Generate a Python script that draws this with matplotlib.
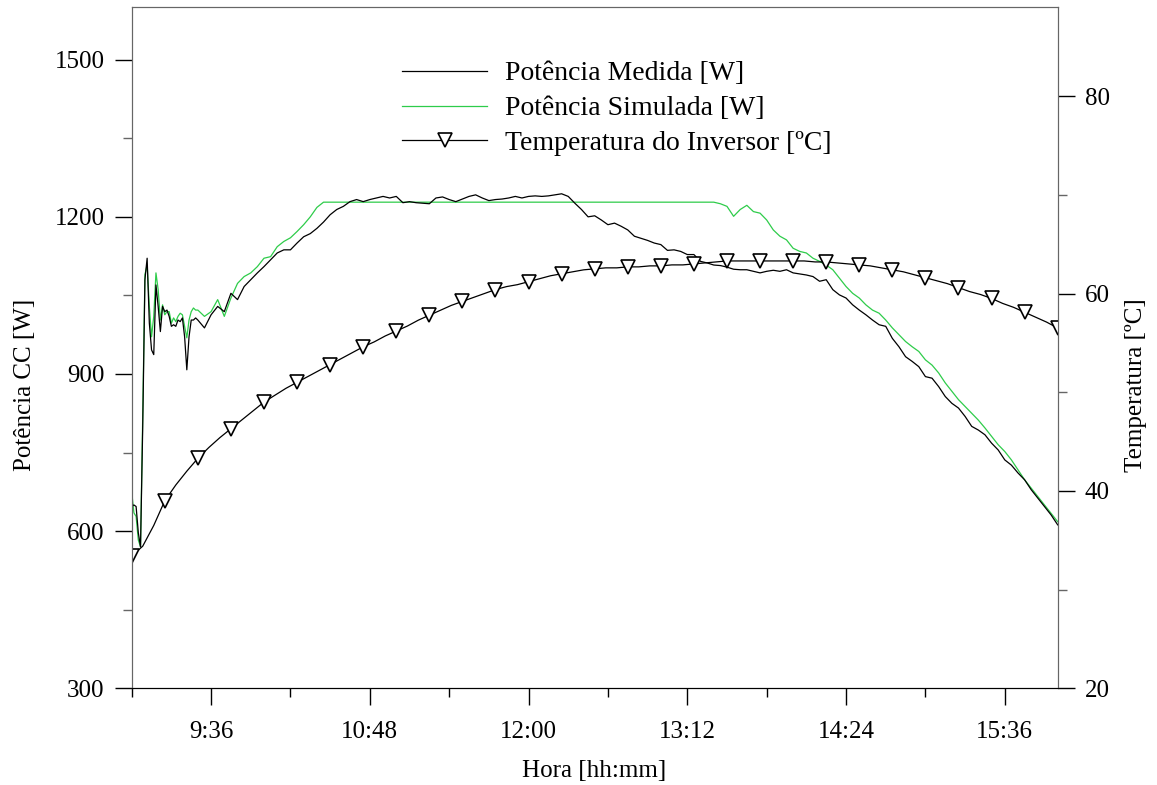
import numpy as np
import matplotlib.pyplot as plt
from matplotlib.ticker import MultipleLocator, FuncFormatter

plt.rcParams['font.family'] = ['Liberation Serif', 'DejaVu Serif']
plt.rcParams['font.size'] = 18

# tempo em minutos depois das 9:00
t_med = list(range(0, 30)) + list(range(30, 421, 3))
pot_medida = [
    647, 650, 647, 597, 570, 800, 1080, 1121, 997, 946,
    937, 1070, 1029, 981, 1029, 1019, 1022, 1010, 991, 994,
    991, 1003, 1000, 1007, 971, 908, 971, 1003, 1003, 1007,
    # 30 .. 420 a cada 3 min
    1003, 988, 1013, 1029, 1019, 1054, 1042, 1067, 1080, 1093,
    1105, 1118, 1131, 1137, 1137, 1150, 1162, 1168, 1178, 1190,
    1204, 1214, 1220, 1229, 1233, 1229, 1233, 1236, 1239, 1236,
    1239, 1227, 1229, 1227, 1226, 1225, 1236, 1238, 1233, 1229,
    1234, 1239, 1242, 1236, 1231, 1233, 1234, 1236, 1239, 1236,
    1239, 1240, 1239, 1240, 1242, 1244, 1239, 1226, 1214, 1200,
    1202, 1194, 1185, 1188, 1182, 1175, 1163, 1159, 1155, 1150,
    1147, 1136, 1137, 1134, 1128, 1128, 1115, 1112, 1108, 1107,
    1104, 1100, 1099, 1099, 1096, 1093, 1096, 1098, 1096, 1099,
    1093, 1091, 1089, 1086, 1077, 1080, 1061, 1051, 1045, 1032,
    1022, 1013, 1003, 994, 991, 968, 952, 933, 924, 914,
    895, 892, 876, 857, 844, 835, 819, 800, 793, 784,
    768, 755, 736, 726, 711, 698, 679, 663, 647, 631,
    612,
]

t_sim = list(range(0, 30)) + list(range(30, 88, 3)) + [261] + list(range(264, 421, 3))
pot_simulada = [
    675, 635, 628, 583, 570, 820, 1090, 1108, 1029, 971,
    1010, 1093, 1061, 1003, 1032, 1013, 1019, 1019, 997, 1007,
    1000, 1010, 1016, 1013, 991, 969, 1003, 1019, 1026, 1022,
    # 30 .. 87
    1022, 1010, 1019, 1042, 1010, 1045, 1073, 1086, 1093, 1105,
    1121, 1124, 1143, 1153, 1160, 1172, 1185, 1200, 1218, 1228,
    # 261
    1228,
    # 264 .. 420
    1228, 1225, 1220, 1201, 1214, 1222, 1210, 1207, 1194, 1175,
    1163, 1156, 1140, 1134, 1131, 1121, 1115, 1108, 1099, 1083,
    1067, 1054, 1045, 1032, 1022, 1016, 1003, 988, 975, 962,
    952, 943, 927, 917, 902, 883, 867, 851, 838, 825,
    812, 797, 781, 765, 752, 736, 717, 698, 682, 666,
    650, 634, 618,
]

t_temp = list(range(0, 421, 5))
temp_inversor = [
    33.4, 34.4, 36.5, 39.0, 40.6, 42.0, 43.3, 44.4, 45.4, 46.3,
    47.2, 48.1, 49.0, 49.7, 50.4, 51.0, 51.6, 52.2, 52.8, 53.4,
    54.0, 54.6, 55.1, 55.7, 56.2, 56.7, 57.3, 57.8, 58.3, 58.8,
    59.2, 59.6, 60.0, 60.4, 60.7, 60.9, 61.2, 61.5, 61.8, 62.0,
    62.2, 62.4, 62.5, 62.6, 62.6, 62.7, 62.7, 62.8, 62.8, 62.9,
    62.9, 63.0, 63.1, 63.2, 63.3, 63.3, 63.3, 63.3, 63.3, 63.3,
    63.3, 63.3, 63.2, 63.2, 63.1, 63.0, 62.9, 62.8, 62.6, 62.4,
    62.2, 61.9, 61.6, 61.3, 61.0, 60.6, 60.2, 59.9, 59.5, 59.0,
    58.6, 58.1, 57.6, 57.1, 56.5,
]

inicio = 9 * 60
verde = '#2ecc4a'

fig = plt.figure(figsize=(11.57, 7.85), dpi=100)
ax = fig.add_axes([131.7/1157, 1-688.3/785, 926/1157, 681/785])
ax2 = ax.twinx()

l2, = ax.plot(np.array(t_sim) + inicio, pot_simulada, color=verde, lw=0.9)
l1, = ax.plot(np.array(t_med) + inicio, pot_medida, color='k', lw=0.9)
l3, = ax2.plot(np.array(t_temp) + inicio, temp_inversor, color='k', lw=0.9,
               marker='v', markevery=3, ms=10, mfc='white', mec='k', mew=1.2)

ax.set_xlim(inicio, inicio + 420)
ax.set_ylim(300, 1600)
ax2.set_ylim(20, 89)

ax.xaxis.set_major_locator(MultipleLocator(72))
ax.xaxis.set_minor_locator(MultipleLocator(36))
ax.xaxis.set_major_formatter(FuncFormatter(lambda v, p: f'{int(v)//60}:{int(v)%60:02d}'))
ax.yaxis.set_major_locator(MultipleLocator(300))
ax.yaxis.set_minor_locator(MultipleLocator(150))
ax2.yaxis.set_major_locator(MultipleLocator(20))
ax2.yaxis.set_minor_locator(MultipleLocator(10))

for a in (ax, ax2):
    a.tick_params(which='major', direction='out', length=12.5, width=1, pad=7)
    a.tick_params(which='minor', direction='out', length=6.5, width=1)
    for s in ('left', 'right', 'top'):
        a.spines[s].set_color('#666666')
    a.spines['bottom'].set_color('k')
ax.tick_params(axis='x', which='major', pad=11)
ax.tick_params(axis='y', which='minor', color='#666666')
ax2.tick_params(axis='y', which='minor', color='#666666')

fig.text(25/1157, 1-385/785, 'Potência CC [W]', rotation=90, ha='center', va='center')
fig.text(1136/1157, 1-385/785, 'Temperatura [ºC]', rotation=90, ha='center', va='center')
fig.text(594/1157, 1-771/785, 'Hora [hh:mm]', ha='center', va='center')

fig.legend([l1, l2, l3], ['Potência Medida [W]', 'Potência Simulada [W]',
                          'Temperatura do Inversor [ºC]'],
           loc='upper left', bbox_to_anchor=(402/1157, 1-61/785), frameon=False,
           fontsize=20, handlelength=3.06, handletextpad=0.65, labelspacing=0.34,
           borderpad=0, borderaxespad=0, numpoints=1)

fig.savefig('out.png', dpi=100)
